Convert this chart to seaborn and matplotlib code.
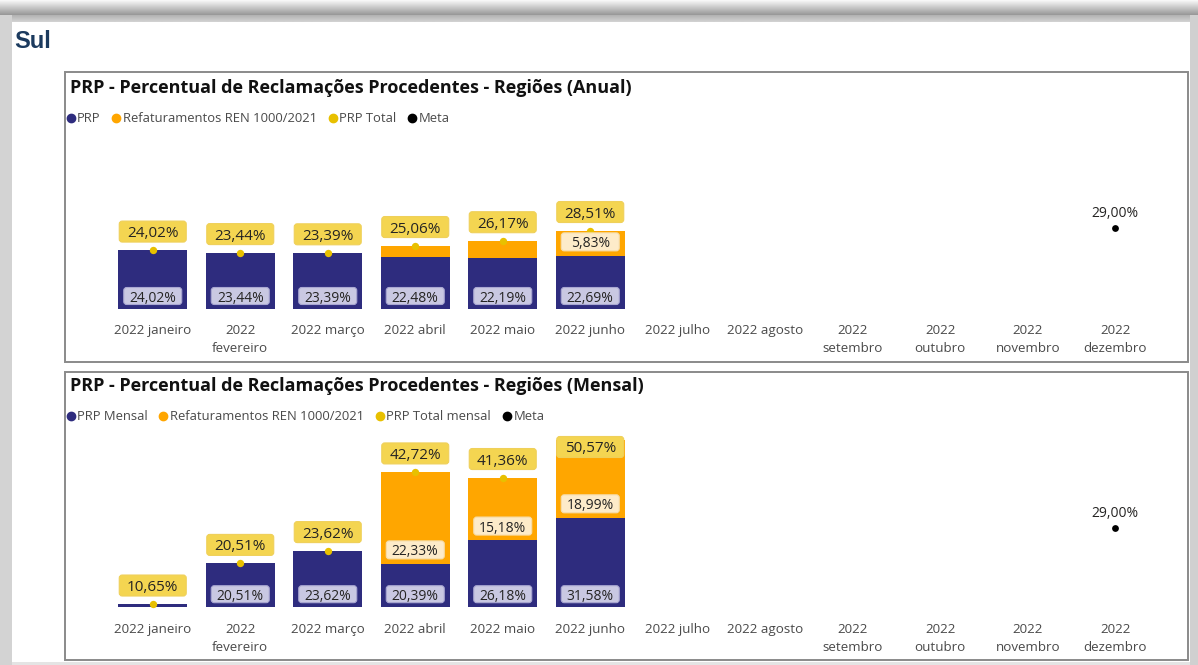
import numpy as np
import pandas as pd
import matplotlib
matplotlib.use("Agg")
import matplotlib.pyplot as plt
import seaborn as sns
from matplotlib.patches import FancyBboxPatch, Rectangle
from matplotlib.lines import Line2D
from matplotlib.transforms import Affine2D, ScaledTranslation

# ---------------- data ----------------
months = ["2022 janeiro", "2022 fevereiro", "2022 março", "2022 abril", "2022 maio",
          "2022 junho", "2022 julho", "2022 agosto", "2022 setembro", "2022 outubro",
          "2022 novembro", "2022 dezembro"]
tick_labels = ["2022 janeiro", "2022\nfevereiro", "2022 março", "2022 abril", "2022 maio",
               "2022 junho", "2022 julho", "2022 agosto", "2022\nsetembro", "2022\noutubro",
               "2022\nnovembro", "2022\ndezembro"]
data_months = months[:6]

prp_anual = [24.02, 23.44, 23.39, 22.48, 22.19, 22.69]
refat_anual = [0.0, 0.0, 0.0, 2.58, 3.98, 5.83]
total_anual = [24.02, 23.44, 23.39, 25.06, 26.17, 28.51]
meta_anual = 29.00

prp_mensal = [10.65, 20.51, 23.62, 20.39, 26.18, 31.58]
refat_mensal = [0.0, 0.0, 0.0, 22.33, 15.18, 18.99]
total_mensal = [10.65, 20.51, 23.62, 42.72, 41.36, 50.57]
meta_mensal = 29.00
meta_month = "2022 dezembro"

titles = ["PRP - Percentual de Reclamações Procedentes - Regiões (Anual)",
          "PRP - Percentual de Reclamações Procedentes - Regiões (Mensal)"]
legend_anual = ["PRP", "Refaturamentos REN 1000/2021", "PRP Total", "Meta"]
legend_mensal = ["PRP Mensal", "Refaturamentos REN 1000/2021", "PRP Total mensal", "Meta"]

# ---------------- style ----------------
NAVY = "#2E2C7E"
ORANGE = "#FFA600"
GOLD = "#E8C000"
TOT_BOX = "#F4D551"
PRP_BOX = "#C9C8E2"
REF_BOX = "#FDEBC9"
TXT = "#252423"
GRAY_TXT = "#4A4A4A"
FONT = ["Open Sans", "DejaVu Sans"]

sns.set_theme(style="white")
plt.rcParams["font.family"] = FONT

W, H = 1198, 665
fig = plt.figure(figsize=(W / 100, H / 100), dpi=100)
fig.patch.set_facecolor("white")


def fx(px):
    return px / W


def fy(py):
    return 1 - py / H


# background frame (screenshot chrome)
bg = fig.add_axes([0, 0, 1, 1], zorder=-10)
bg.set_xlim(0, W)
bg.set_ylim(H, 0)
bg.axis("off")
grad = np.concatenate([np.linspace(0.97, 0.60, 15), np.linspace(0.70, 0.82, 7)])
bg.imshow(grad[:, None] * np.ones((1, 2)), cmap="gray", vmin=0, vmax=1,
          extent=[0, W, 22, 0], aspect="auto", interpolation="bilinear")
bg.add_patch(Rectangle((0, 15), 12, H, color="#D3D3D3", lw=0))
bg.add_patch(Rectangle((1190, 15), 8, H, color="#D0D0D0", lw=0))
bg.add_patch(Rectangle((12, 662), 1178, 3, color="#E4E4E4", lw=0))
for (y0, y1) in [(72, 362), (372, 660)]:
    bg.add_patch(Rectangle((65, y0), 1123, y1 - y0, fill=False, ec="#8A8A8A", lw=1.4))

fig.text(fx(14), fy(41), "Sul", fontsize=17, fontweight="bold", color="#1B3A5E",
         ha="left", va="center", family=["Liberation Sans Narrow", "Liberation Sans", "DejaVu Sans"])


def box_label(ax, x, y, text, dy, w, h, fc, ec, fs, weight="normal", z=6):
    trans = Affine2D().translate(0, dy) + ScaledTranslation(x, y, ax.transData)
    p = FancyBboxPatch((-w / 2, -h / 2), w, h, boxstyle="round,pad=0,rounding_size=3",
                       fc=fc, ec=ec, lw=0.8, transform=trans, clip_on=False, zorder=z)
    ax.add_patch(p)
    ax.annotate(text, xy=(x, y), xytext=(0, dy * 0.72), textcoords="offset points",
                ha="center", va="center_baseline", fontsize=fs, color=TXT,
                fontweight=weight, zorder=z + 1, annotation_clip=False)


def fmt(v):
    return f"{v:.2f}%".replace(".", ",")


def draw_chart(top_px, bot_px, ymin, ymax, title, leg_labels, prp, refat, total, meta, title_y, leg_y):
    ax = fig.add_axes([fx(109), fy(bot_px), fx(1159) - fx(109), fy(top_px) - fy(bot_px)])
    ax.set_facecolor("none")
    df = pd.DataFrame({"mes": data_months, "prp": prp, "refat": refat, "total": total})
    sns.barplot(data=df, x="mes", y="total", order=months, color=ORANGE, saturation=1,
                width=0.79, errorbar=None, ax=ax, edgecolor="none", linewidth=0)
    sns.barplot(data=df, x="mes", y="prp", order=months, color=NAVY, saturation=1,
                width=0.79, errorbar=None, ax=ax, edgecolor="none", linewidth=0)
    ax.set_xlim(-0.5, len(months) - 0.5)
    ax.set_ylim(ymin, ymax)
    ax.set_xlabel("")
    ax.set_ylabel("")
    ax.set_yticks([])
    ax.set_xticks(range(len(months)))
    ax.set_xticklabels(tick_labels, fontsize=9.6, color=GRAY_TXT, linespacing=1.5)
    ax.tick_params(axis="x", length=0, pad=11.5)
    for s in ax.spines.values():
        s.set_visible(False)

    xs = [months.index(m) for m in data_months]
    ax.scatter(xs, total, s=28, color=GOLD, zorder=5, lw=0, clip_on=False)
    top_disp = ax.transAxes.transform((0, 1))[1]
    for i, (p, r, t) in zip(xs, zip(prp, refat, total)):
        base_disp = ax.transAxes.transform((0, 0))[1]
        p_disp = ax.transData.transform((i, p))[1]
        t_disp = ax.transData.transform((i, t))[1]
        # inner PRP label
        if p_disp - base_disp >= 22:
            box_label(ax, i, ymin, fmt(p), 12.5, 58, 17, PRP_BOX, "#A9A7D2", 10)
        # inner refat label
        if t_disp - p_disp >= 22:
            box_label(ax, i, p, fmt(r), 14, 58, 18, REF_BOX, "#F6DDAA", 10)
        dy = min(18.5, top_disp - t_disp - 10)
        box_label(ax, i, t, fmt(t), dy, 67, 21, TOT_BOX, "#EFD05A", 11, z=8)

    mi = months.index(meta_month)
    ax.scatter([mi], [meta], s=24, color="black", zorder=5, lw=0)
    ax.annotate(fmt(meta), xy=(mi, meta), xytext=(0, 15 * 0.72), textcoords="offset points",
                ha="center", va="center", fontsize=10, color=TXT)

    fig.text(fx(70), fy(title_y), title, fontsize=13, fontweight="bold", color="#111111",
             ha="left", va="center")
    cols = [NAVY, ORANGE, GOLD, "black"]
    handles = [Line2D([], [], marker="o", ls="none", color=c, markersize=6) for c in cols]
    fig.legend(handles, leg_labels, loc="center left",
               bbox_to_anchor=(fx(64), fy(leg_y)), ncol=4, frameon=False,
               fontsize=9.4, handletextpad=0.0, columnspacing=0.7, handlelength=1.0,
               labelcolor=GRAY_TXT, borderaxespad=0, borderpad=0)
    return ax


draw_chart(140, 308.5, 10.6, 49.3, titles[0], legend_anual, prp_anual, refat_anual,
           total_anual, meta_anual, 88, 119)
draw_chart(437, 606.7, 10.0, 51.2, titles[1], legend_mensal, prp_mensal, refat_mensal,
           total_mensal, meta_mensal, 386, 417)

fig.savefig("out.png", dpi=100, facecolor="white")
